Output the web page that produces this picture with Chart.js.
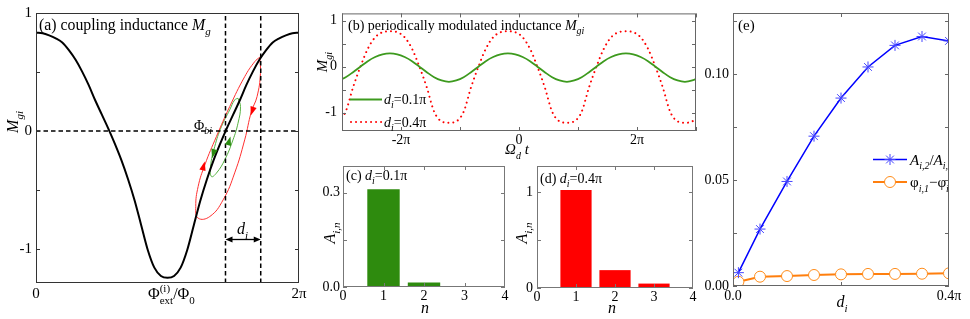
<!DOCTYPE html>
<html><head><meta charset="utf-8">
<script src="https://cdn.jsdelivr.net/npm/chart.js@4/dist/chart.umd.min.js"></script>
<style>
html,body{margin:0;padding:0;background:#fff;}
#wrap{position:relative;width:970px;height:319px;overflow:hidden;background:#fff;}
canvas{position:absolute;left:0;top:0;}
</style></head><body>
<div id="wrap">
<canvas id="ca" width="970" height="319"></canvas>
<canvas id="cb" width="970" height="319"></canvas>
<canvas id="cc" width="970" height="319"></canvas>
<canvas id="cd" width="970" height="319"></canvas>
<canvas id="ce" width="970" height="319"></canvas>
</div>
<script>
// ---------- data (a): coupling inductance vs external flux (x in units of pi) ----------
const phiA = [0,0.05,0.1,0.15,0.2,0.25,0.3,0.35,0.4,0.45,0.5,0.55,0.6,0.65,0.7,0.75,0.8,0.85,0.9,0.95,1.0,
  1.05,1.1,1.15,1.2,1.25,1.3,1.35,1.4,1.45,1.5,1.55,1.6,1.65,1.7,1.75,1.8,1.85,1.9,1.95,2.0];
const mgA = [0.833,0.828,0.81,0.785,0.75,0.685,0.605,0.505,0.39,0.26,0.14,0.02,-0.11,-0.25,-0.41,-0.59,-0.80,-1.01,-1.16,-1.23,-1.245,
  -1.23,-1.16,-1.01,-0.80,-0.59,-0.41,-0.25,-0.11,0.02,0.14,0.26,0.39,0.505,0.605,0.685,0.75,0.785,0.81,0.828,0.833];
const redLoopX = [1.701,1.707,1.681,1.638,1.587,1.511,1.423,1.322,1.233,1.215,1.233,1.284,1.372,1.473,1.587,1.663,1.701];
const redLoopY = [0.625,0.489,0.291,0.164,-0.076,-0.356,-0.585,-0.726,-0.740,-0.642,-0.472,-0.288,-0.048,0.206,0.460,0.587,0.625];
const greenLoopX = [1.536,1.555,1.536,1.498,1.435,1.372,1.334,1.327,1.359,1.410,1.473,1.511,1.536];
const greenLoopY = [0.277,0.206,0.065,-0.076,-0.246,-0.358,-0.387,-0.303,-0.133,0.036,0.178,0.263,0.277];
const phiBias = 1.441, phiEdge = 1.709, dArrowY = -0.92;
// loop direction arrows: [fromX, fromY, toX, toY]
const redArrows = [[1.681,0.291,1.633,0.13],[1.234,-0.466,1.2835,-0.26]];
const greenArrows = [[1.367,-0.119,1.339,-0.231],[1.443,-0.186,1.479,-0.048]];

// ---------- data (b): modulated inductance vs Omega_d t (x in units of pi) ----------
const tB = [-3.063,-2.938,-2.813,-2.688,-2.563,-2.438,-2.313,-2.188,-2.063,-1.938,-1.813,-1.688,-1.563,-1.438,-1.313,-1.188,-1.063,
  -0.938,-0.813,-0.688,-0.563,-0.438,-0.313,-0.188,-0.063,0.062,0.187,0.312,0.437,0.562,0.687,0.812,0.937,1.062,1.187,1.312,1.437,
  1.562,1.687,1.812,1.937,2.062,2.187,2.312,2.437,2.562,2.687,2.812,2.937,3.062];
const mgB01 = [-0.30,-0.23,-0.12,0.00,0.12,0.21,0.27,
  0.29,0.27,0.21,0.12,0.00,-0.12,-0.23,-0.30,-0.33,-0.30,-0.23,-0.12,0.00,0.12,0.21,0.27,
  0.29,0.27,0.21,0.12,0.00,-0.12,-0.23,-0.30,-0.33,-0.30,-0.23,-0.12,0.00,0.12,0.21,0.27,
  0.29,0.27,0.21,0.12,0.00,-0.12,-0.23,-0.30,-0.33,-0.30,-0.23];
const mgB04 = [-1.19,-0.98,-0.45,0.00,0.39,0.64,0.75,
  0.77,0.75,0.64,0.39,0.00,-0.45,-0.98,-1.19,-1.22,-1.19,-0.98,-0.45,0.00,0.39,0.64,0.75,
  0.77,0.75,0.64,0.39,0.00,-0.45,-0.98,-1.19,-1.22,-1.19,-0.98,-0.45,0.00,0.39,0.64,0.75,
  0.77,0.75,0.64,0.39,0.00,-0.45,-0.98,-1.19,-1.22,-1.19,-0.98];

// ---------- data (c),(d): harmonic amplitudes ----------
const nHarm = [1,2,3];
const ampC = [0.311,0.0146,0.003];
const ampD = [1.02,0.186,0.046];

// ---------- data (e): vs d_i (units of pi) ----------
const dE = [0.01,0.05,0.1,0.15,0.2,0.25,0.3,0.35,0.4];
const ratioE = [0.0063,0.0269,0.0494,0.0708,0.0888,0.1035,0.1137,0.1179,0.1158];
const phaseE = [0.0020,0.0044,0.0047,0.0052,0.0055,0.0057,0.0057,0.0058,0.0060];

// ---------- setup ----------
const FAM = "'Liberation Serif','Times New Roman',Times,serif";
Chart.defaults.font.family = FAM;
Chart.defaults.font.size = 14;
Chart.defaults.color = '#000';
Chart.defaults.animation = false;
Chart.defaults.plugins.legend.display = false;
Chart.defaults.plugins.tooltip.enabled = false;

const DECO = {};
Chart.register({id:'deco', afterDatasetsDraw(chart){ const f = DECO[chart.canvas.id]; if (f) f(chart, chart.ctx); }});

function pts(xs, ys){ return xs.map((x,i)=>({x, y:ys[i]})); }

function rich(ctx, x, y, parts, o){
  o = o || {};
  const size = o.size || 14, align = o.align || 'left';
  const items = []; let w = 0, pend = 0;
  for (const p of parts){
    const t = p[0], st = p[1] || '';
    const small = st.includes('b') || st.includes('p');
    const sz = small ? Math.round(size*0.68) : size;
    const font = (st.includes('i') ? 'italic ' : '') + sz + 'px ' + FAM;
    ctx.font = font;
    const tw = ctx.measureText(t).width;
    const dy = st.includes('b') ? size*0.3 : (st.includes('p') ? -size*0.45 : 0);
    items.push({t, font, x:w, dy});
    if (st.includes('n')) pend = tw; else { w += Math.max(tw, pend); pend = 0; }
  }
  ctx.save();
  ctx.translate(x, y);
  if (o.rotate) ctx.rotate(o.rotate);
  const x0 = align === 'center' ? -w/2 : (align === 'right' ? -w : 0);
  ctx.fillStyle = o.color || '#000';
  ctx.textBaseline = 'alphabetic'; ctx.textAlign = 'left';
  for (const it of items){ ctx.font = it.font; ctx.fillText(it.t, x0 + it.x, it.dy); }
  ctx.restore();
  return w;
}

function frame(chart, ctx, xt, yt, color){
  const a = chart.chartArea, xs = chart.scales.x, ys = chart.scales.y;
  ctx.save();
  ctx.strokeStyle = color; ctx.lineWidth = 1;
  ctx.strokeRect(a.left+0.5, a.top+0.5, a.right-a.left-1, a.bottom-a.top-1);
  ctx.beginPath();
  for (const v of xt){ const p = Math.round(xs.getPixelForValue(v))+0.5;
    ctx.moveTo(p, a.bottom); ctx.lineTo(p, a.bottom-4); ctx.moveTo(p, a.top); ctx.lineTo(p, a.top+4); }
  for (const v of yt){ const p = Math.round(ys.getPixelForValue(v))+0.5;
    ctx.moveTo(a.left, p); ctx.lineTo(a.left+4, p); ctx.moveTo(a.right, p); ctx.lineTo(a.right-4, p); }
  ctx.stroke();
  ctx.restore();
}

function head(ctx, x1, y1, x2, y2, len, hw, color){
  const ang = Math.atan2(y2-y1, x2-x1);
  ctx.save(); ctx.fillStyle = color; ctx.translate(x2, y2); ctx.rotate(ang);
  ctx.beginPath(); ctx.moveTo(0,0); ctx.lineTo(-len, -hw); ctx.lineTo(-len, hw); ctx.closePath(); ctx.fill();
  ctx.restore();
}

function axis(min, max, ticks, labels, size, pad){
  return {type:'linear', min, max, offset:false,
    grid:{display:false, drawTicks:false}, border:{display:false},
    ticks:{padding:pad, autoSkip:false, maxRotation:0, font:{size, family:FAM}, color:'#000',
      callback:(v)=>{ const i = ticks.indexOf(v); return i < 0 ? '' : labels[i]; }},
    afterBuildTicks:(s)=>{ s.ticks = ticks.map(v=>({value:v})); }};
}

function mk(id, area, cfg){
  const yw = 30, xh = 20;
  cfg.options.responsive = false;
  cfg.options.animation = false;
  cfg.options.layout = {padding:{left:area.L-yw, top:area.T, right:970-area.R, bottom:319-area.B-xh}};
  cfg.options.scales.x.afterFit = (s)=>{ s.height = xh; };
  cfg.options.scales.y.afterFit = (s)=>{ s.width = yw; };
  return new Chart(document.getElementById(id), cfg);
}

// ---------- (a) ----------
DECO.ca = (chart, ctx) => {
  const xs = chart.scales.x, ys = chart.scales.y;
  frame(chart, ctx, [], [-1,-0.5,0,0.5,1], '#333');
  for (const a of redArrows) head(ctx, xs.getPixelForValue(a[0]), ys.getPixelForValue(a[1]), xs.getPixelForValue(a[2]), ys.getPixelForValue(a[3]), 9, 3.2, '#ff0000');
  for (const a of greenArrows) head(ctx, xs.getPixelForValue(a[0]), ys.getPixelForValue(a[1]), xs.getPixelForValue(a[2]), ys.getPixelForValue(a[3]), 9, 3.2, '#2a8a10');
  const x1 = xs.getPixelForValue(phiBias), x2 = xs.getPixelForValue(phiEdge), yy = Math.round(ys.getPixelForValue(dArrowY))+0.5;
  ctx.save(); ctx.strokeStyle = '#000'; ctx.lineWidth = 1.3;
  ctx.beginPath(); ctx.moveTo(x1+5, yy); ctx.lineTo(x2-5, yy); ctx.stroke(); ctx.restore();
  head(ctx, x2-10, yy, x1, yy, 7, 3, '#000');
  head(ctx, x1+10, yy, x2, yy, 7, 3, '#000');
  rich(ctx, 39, 30, [['(a) coupling inductance '],['M','i'],['g','ib']], {size:15.8});
  rich(ctx, 18, 122, [['M','i'],['gi','ib']], {size:16, rotate:-Math.PI/2, align:'center'});
  rich(ctx, 148, 299, [['Φ'],['(i)','pn'],['ext','b'],['/Φ'],['0','b']], {size:16});
  rich(ctx, 194, 130, [['Φ'],['bi','ib']], {size:14});
  rich(ctx, 237, 234, [['d','i'],['i','ib']], {size:16});
};
mk('ca', {L:36, T:13, R:299, B:283}, {
  type:'line',
  data:{datasets:[
    {data:pts(phiA, mgA), borderColor:'#000', borderWidth:2, pointRadius:0, cubicInterpolationMode:'monotone', order:1},
    {data:pts(redLoopX, redLoopY), borderColor:'#ff3030', borderWidth:1, pointRadius:0, tension:0.45, order:3},
    {data:pts(greenLoopX, greenLoopY), borderColor:'#55b040', borderWidth:1, pointRadius:0, tension:0.45, order:3},
    {data:[{x:0,y:0},{x:2,y:0}], borderColor:'#000', borderWidth:1.5, borderDash:[4.5,3], pointRadius:0, order:2},
    {data:[{x:phiBias,y:-1.29},{x:phiBias,y:1}], borderColor:'#000', borderWidth:1.5, borderDash:[4.5,3], pointRadius:0, order:2},
    {data:[{x:phiEdge,y:-1.29},{x:phiEdge,y:1}], borderColor:'#000', borderWidth:1.5, borderDash:[4.5,3], pointRadius:0, order:2}
  ]},
  options:{scales:{
    x: axis(0, 2, [0, 2], ['0', '2π'], 15, 2),
    y: axis(-1.29, 1, [-1, 0, 1], ['-1', '0', '1'], 15, 4)
  }}
});

// ---------- (b) ----------
DECO.cb = (chart, ctx) => {
  frame(chart, ctx, [-3,-2,-1,0,1,2,3], [-1,-0.5,0,0.5,1], '#666');
  rich(ctx, 348, 30, [['(b) periodically modulated inductance '],['M','i'],['gi','ib']], {size:14});
  ctx.save();
  ctx.strokeStyle = '#3d9a1e'; ctx.lineWidth = 2;
  ctx.beginPath(); ctx.moveTo(350, 99.5); ctx.lineTo(382, 99.5); ctx.stroke();
  ctx.strokeStyle = '#ff0000'; ctx.lineCap = 'round'; ctx.setLineDash([0.01, 5]);
  ctx.beginPath(); ctx.moveTo(351, 122); ctx.lineTo(382, 122); ctx.stroke();
  ctx.restore();
  rich(ctx, 384, 104, [['d','i'],['i','ib'],['=0.1π']], {size:14});
  rich(ctx, 384, 127, [['d','i'],['i','ib'],['=0.4π']], {size:14});
  rich(ctx, 517, 154, [['Ω','i'],['d','ib'],[' t','i']], {size:15, align:'center'});
  rich(ctx, 327, 62, [['M','i'],['gi','ib']], {size:15, rotate:-Math.PI/2, align:'center'});
};
mk('cb', {L:342, T:13, R:696, B:131}, {
  type:'line',
  data:{datasets:[
    {data:pts(tB, mgB01), borderColor:'#3d9a1e', borderWidth:1.8, pointRadius:0, cubicInterpolationMode:'monotone', order:1},
    {data:pts(tB, mgB04), borderColor:'#ff0000', borderWidth:2, borderDash:[0.01,5], borderCapStyle:'round', pointRadius:0, cubicInterpolationMode:'monotone', order:2}
  ]},
  options:{scales:{
    x: axis(-3, 3, [-2, 0, 2], ['-2π', '0', '2π'], 14, 1),
    y: axis(-1.40, 1.16, [-1, 0, 1], ['-1', '0', '1'], 14, 5)
  }}
});

// ---------- (c) ----------
DECO.cc = (chart, ctx) => {
  frame(chart, ctx, [1,2,3], [0,0.15,0.3], '#777');
  rich(ctx, 346, 180, [['(c) '],['d','i'],['i','ib'],['=0.1π']], {size:14});
  rich(ctx, 335, 233, [['A','i'],['i,n','ib']], {size:16, rotate:-Math.PI/2, align:'center'});
  rich(ctx, 425, 313, [['n','i']], {size:16, align:'center'});
};
mk('cc', {L:343, T:166, R:505, B:287}, {
  type:'bar',
  data:{datasets:[{data:pts(nHarm, ampC), backgroundColor:'#2e8b0e', borderWidth:0, barPercentage:0.8, categoryPercentage:1.0}]},
  options:{scales:{
    x: axis(0, 4, [0,1,2,3,4], ['0','1','2','3','4'], 14, 1),
    y: axis(0, 0.385, [0, 0.3], ['0.0', '0.3'], 14, 3)
  }}
});

// ---------- (d) ----------
DECO.cd = (chart, ctx) => {
  frame(chart, ctx, [1,2,3], [0,0.5,1], '#777');
  rich(ctx, 540, 183, [['(d) '],['d','i'],['i','ib'],['=0.4π']], {size:14});
  rich(ctx, 527, 233, [['A','i'],['i,n','ib']], {size:16, rotate:-Math.PI/2, align:'center'});
  rich(ctx, 612, 313, [['n','i']], {size:16, align:'center'});
};
mk('cd', {L:537, T:166, R:693, B:288}, {
  type:'bar',
  data:{datasets:[{data:pts(nHarm, ampD), backgroundColor:'#ff0000', borderWidth:0, barPercentage:0.8, categoryPercentage:1.0}]},
  options:{scales:{
    x: axis(0, 4, [0,1,2,3,4], ['0','1','2','3','4'], 14, 1),
    y: axis(0, 1.27, [0, 1], ['0', '1'], 14, 4)
  }}
});

// ---------- (e) ----------
DECO.ce = (chart, ctx) => {
  const a = chart.chartArea;
  frame(chart, ctx, [0.2], [0,0.025,0.05,0.075,0.1,0.125], '#666');
  rich(ctx, 738, 30, [['(e)']], {size:15});
  ctx.save();
  ctx.beginPath(); ctx.rect(a.left, a.top, a.right-a.left-1, a.bottom-a.top); ctx.clip();
  ctx.lineWidth = 1.5; ctx.strokeStyle = '#0000ff';
  ctx.beginPath(); ctx.moveTo(873, 159.5); ctx.lineTo(907, 159.5); ctx.stroke();
  ctx.strokeStyle = '#4444ff'; ctx.lineWidth = 1;
  Chart.helpers.drawPoint(ctx, {pointStyle:'star', radius:5.5, rotation:0, borderWidth:1}, 890, 159.5);
  ctx.lineWidth = 2; ctx.strokeStyle = '#ff7f0e';
  ctx.beginPath(); ctx.moveTo(873, 182); ctx.lineTo(907, 182); ctx.stroke();
  ctx.fillStyle = '#fff'; ctx.lineWidth = 1; ctx.strokeStyle = '#ff8c1a';
  Chart.helpers.drawPoint(ctx, {pointStyle:'circle', radius:5.5, rotation:0, borderWidth:1}, 890, 182);
  rich(ctx, 910, 164.5, [['A','i'],['i,2','ib'],['/'],['A','i'],['i,1','ib']], {size:15});
  rich(ctx, 910, 187, [['φ'],['i,1','ib'],['−'],['φ'],['i','ib']], {size:15});
  ctx.restore();
  rich(ctx, 842, 307, [['d','i'],['i','ib']], {size:16, align:'center'});
};
mk('ce', {L:733, T:13, R:949, B:286}, {
  type:'line',
  data:{datasets:[
    {data:pts(dE, ratioE), borderColor:'#0000ff', borderWidth:1.5, pointStyle:'star', pointRadius:5.5, pointBorderColor:'#4444ff', pointBorderWidth:1, pointBackgroundColor:'#4444ff', tension:0, order:1},
    {data:pts(dE, phaseE), borderColor:'#ff7f0e', borderWidth:2, pointStyle:'circle', pointRadius:5.5, pointBorderColor:'#ff8c1a', pointBorderWidth:1, pointBackgroundColor:'#ffffff', tension:0, order:2}
  ]},
  options:{scales:{
    x: axis(0, 0.4, [0, 0.4], ['0.0', '0.4π'], 14, 2),
    y: axis(0, 0.129, [0, 0.05, 0.1], ['0.00', '0.05', '0.10'], 14, 4)
  }}
});
</script>
</body></html>
